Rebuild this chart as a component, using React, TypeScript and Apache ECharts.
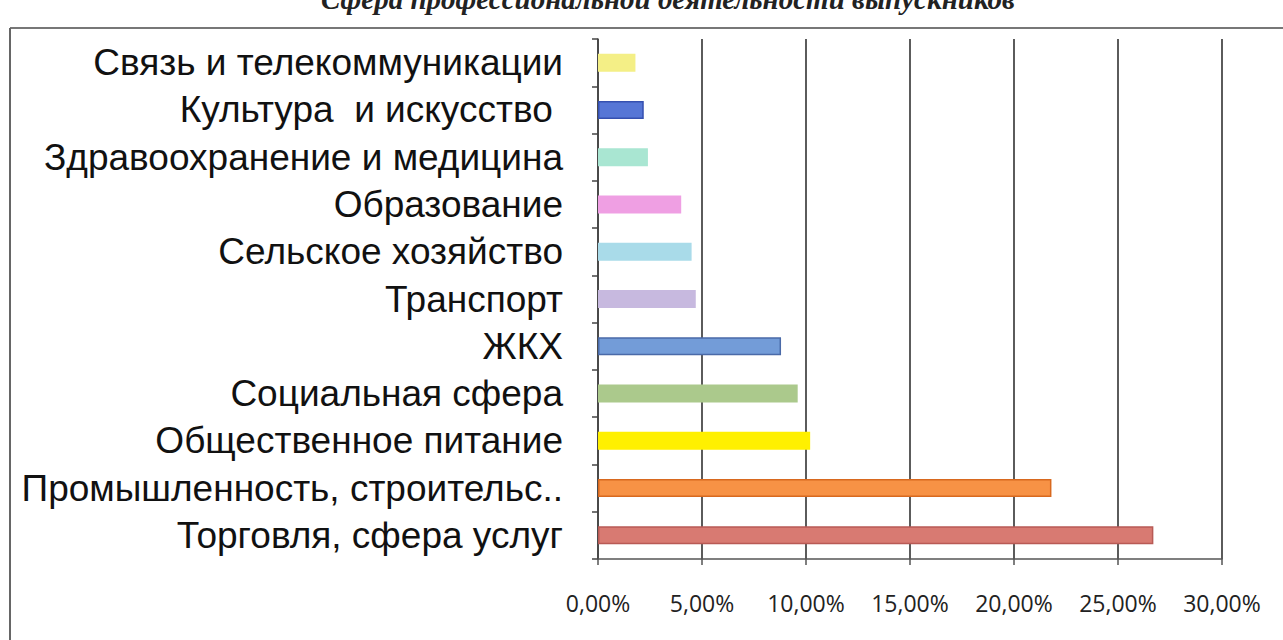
import React, { useEffect, useRef } from "react";
import * as echarts from "echarts";

const titleText = "Сфера профессиональной деятельности выпускников";

const categories = [
  "Связь и телекоммуникации",
  "Культура  и искусство ",
  "Здравоохранение и медицина",
  "Образование",
  "Сельское хозяйство",
  "Транспорт",
  "ЖКХ",
  "Социальная сфера",
  "Общественное питание",
  "Промышленность, строительс..",
  "Торговля, сфера услуг",
];

const values = [1.8, 2.2, 2.4, 4.0, 4.5, 4.7, 8.8, 9.6, 10.2, 21.8, 26.7];

const barColors = [
  "#f4ef86",
  "#5676d6",
  "#a9e6d2",
  "#ef9fe3",
  "#a9dbe9",
  "#c7b9df",
  "#739cd8",
  "#abc98c",
  "#fff000",
  "#f79245",
  "#d87a72",
];

const barBorders = [
  "#f4ef86",
  "#3550b0",
  "#a9e6d2",
  "#ef9fe3",
  "#a9dbe9",
  "#c7b9df",
  "#4a6aa8",
  "#abc98c",
  "#fff000",
  "#d8691f",
  "#b85a55",
];

const xTicks = { min: 0, max: 30, interval: 5 };

export default function App() {
  const ref = useRef<HTMLDivElement>(null);

  useEffect(() => {
    if (!ref.current) return;
    const chart = echarts.init(ref.current, null, { renderer: "svg" });
    const data = values.map((v, i) => ({
      value: v,
      itemStyle: {
        color: barColors[i],
        borderColor: barBorders[i],
        borderWidth: 1.5,
      },
    }));
    chart.setOption({
      animation: false,
      backgroundColor: "#ffffff",
      grid: { left: 598, right: 61, top: 39, bottom: 81, containLabel: false },
      xAxis: {
        type: "value",
        min: xTicks.min,
        max: xTicks.max,
        interval: xTicks.interval,
        axisLine: { show: true, lineStyle: { color: "#555", width: 1.5 } },
        axisTick: { show: true, length: 6, lineStyle: { color: "#555", width: 1.5 } },
        splitLine: { show: true, lineStyle: { color: "#333", width: 1.6 } },
        axisLabel: {
          color: "#222",
          fontSize: 23,
          fontFamily: "Open Sans",
          margin: 32,
          formatter: (v: number) => v.toFixed(2).replace(".", ",") + "%",
        },
      },
      yAxis: {
        type: "category",
        data: categories,
        inverse: true,
        axisLine: { show: true, lineStyle: { color: "#444", width: 1.5 } },
        axisTick: { show: true, length: 6, lineStyle: { color: "#444", width: 1.5 } },
        splitLine: { show: false },
        axisLabel: {
          interval: 0,
          hideOverlap: false,
          color: "#111",
          fontSize: 37,
          lineHeight: 40,
          fontFamily: "Liberation Sans",
          margin: 35,
        },
      },
      series: [
        {
          type: "bar",
          data,
          barWidth: 18,
        },
      ],
      graphic: [
        {
          type: "line",
          shape: { x1: 10, y1: 28, x2: 1283, y2: 28 },
          style: { stroke: "#777", lineWidth: 2 },
        },
        {
          type: "line",
          shape: { x1: 10, y1: 28, x2: 10, y2: 640 },
          style: { stroke: "#666", lineWidth: 2 },
        },
        {
          type: "text",
          x: 668,
          y: -1,
          style: {
            text: titleText,
            fill: "#222",
            font: "italic bold 29px 'Liberation Serif'",
            textAlign: "center",
            textVerticalAlign: "middle",
          },
        },
      ],
    });
    return () => chart.dispose();
  }, []);

  return (
    <div
      ref={ref}
      style={{ position: "fixed", left: 0, top: 0, width: 1283, height: 640 }}
    />
  );
}
